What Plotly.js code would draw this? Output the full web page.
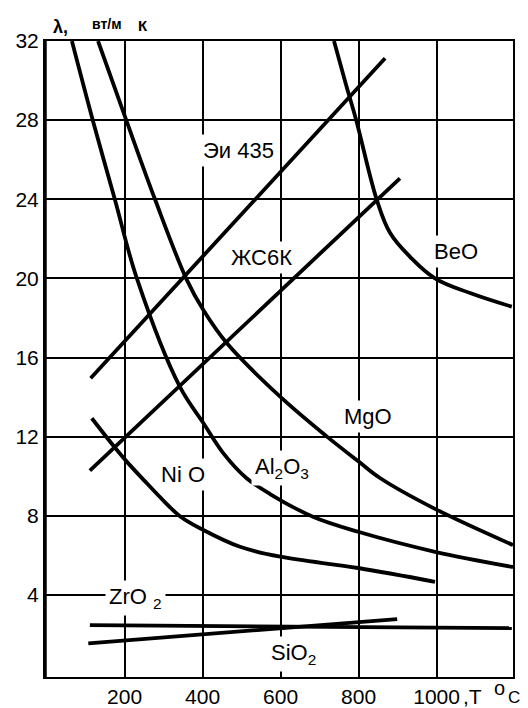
<!DOCTYPE html>
<html>
<head>
<meta charset="utf-8">
<script src="https://cdn.plot.ly/plotly-3.0.1.min.js"></script>
<style>html,body{margin:0;padding:0;background:#fff;}#chart{width:528px;height:708px;}</style>
</head>
<body>
<div id="chart"></div>
<script>
// Temperature (°C) and thermal conductivity λ (W/m·K)
const al2o3T = [65, 119, 175, 232, 342, 402, 453, 513, 573, 683, 799, 996, 1196];
const al2o3L = [32.0, 27.96, 24.0, 19.97, 14.51, 12.69, 11.17, 9.9, 9.1, 7.95, 7.19, 6.18, 5.41];

const mgoT = [132, 205, 278, 359, 402, 462, 599, 719, 801, 855, 996, 1196];
const mgoL = [32.0, 27.96, 24.0, 19.95, 18.4, 16.73, 14.02, 12.0, 10.73, 9.91, 8.35, 6.52];

const nioT = [116, 171, 205, 252, 299, 342, 402, 496, 599, 799, 996];
const nioL = [12.93, 11.55, 10.75, 9.75, 8.78, 7.98, 7.28, 6.43, 5.93, 5.36, 4.66];

const beoT = [737, 767, 794, 847, 881, 932, 996, 1086, 1193];
const beoL = [32.0, 29.85, 28.0, 23.96, 22.29, 21.09, 20.0, 19.26, 18.57];

const ei435T = [113, 868];
const ei435L = [14.95, 31.13];

const zhs6kT = [111, 906];
const zhs6kL = [10.28, 25.06];

const zro2T = [111, 1193];
const zro2L = [2.47, 2.32];

const sio2T = [107, 899];
const sio2L = [1.55, 2.78];

const xTicks = [200, 400, 600, 800, 1000];
const xTickText = ['200', '400', '600', '800', '1000'];
const yTicks = [4, 8, 12, 16, 20, 24, 28, 32];

const FONT = 'Liberation Sans, Arial, sans-serif';

function curve(x, y, smooth) {
  return {
    x: x, y: y, type: 'scatter', mode: 'lines', hoverinfo: 'skip',
    line: smooth ? {color: '#000', width: 3.8, shape: 'spline', smoothing: smooth}
                 : {color: '#000', width: 3.8},
    showlegend: false
  };
}

const data = [
  curve(al2o3T, al2o3L, 1.0),
  curve(mgoT, mgoL, 1.0),
  curve(nioT, nioL, 1.0),
  curve(beoT, beoL, 1.1),
  curve(ei435T, ei435L, 0),
  curve(zhs6kT, zhs6kL, 0),
  curve(zro2T, zro2L, 0),
  curve(sio2T, sio2L, 0)
];

function lab(text, x, y) {
  return {
    text: text, x: x, y: y, xref: 'x', yref: 'y', showarrow: false,
    font: {family: FONT, size: 22, color: '#000'},
    bgcolor: '#fff', borderpad: 3, xanchor: 'center', yanchor: 'middle'
  };
}
function plab(text, px, py, size) {
  return {
    text: text, x: (px - 45) / 468, y: (677 - py) / 636, xref: 'paper', yref: 'paper', showarrow: false,
    font: {family: FONT, size: size, color: '#000'},
    xanchor: 'center', yanchor: 'middle'
  };
}

const axisCommon = {
  showgrid: true, gridcolor: '#000', gridwidth: 2,
  showline: true, mirror: true, linecolor: '#000', linewidth: 2,
  zeroline: false, ticks: '', fixedrange: true,
  tickfont: {family: FONT, size: 21, color: '#000'}
};

const layout = {
  width: 528, height: 708,
  margin: {l: 45, r: 15, t: 41, b: 31},
  paper_bgcolor: '#fff', plot_bgcolor: '#fff',
  showlegend: false,
  xaxis: Object.assign({}, axisCommon, {
    range: [-4, 1196], tickmode: 'array', tickvals: xTicks, ticktext: xTickText
  }),
  yaxis: Object.assign({}, axisCommon, {
    range: [-0.15, 32], tickmode: 'array', tickvals: yTicks
  }),
  shapes: [
    {type: 'line', xref: 'paper', yref: 'paper', x0: 0, x1: 0, y0: 0, y1: 1,
     line: {color: '#000', width: 3.5}}
  ],
  annotations: [
    lab('Эи 435', 491, 26.49),
    lab('ЖС6К', 550, 21.08),
    lab('BeO', 1050, 21.38),
    lab('MgO', 824, 13.04),
    lab('Ni O', 350, 10.11),
    lab('Al<sub>2</sub>O<sub>3</sub>', 604, 10.4),
    lab('ZrO <sub>2</sub>', 227, 3.84),
    lab('SiO<sub>2</sub>', 634, 1.01),
    plab('<b>λ,</b>', 60, 27, 18),
    plab('<b>вт/м</b>', 107, 24, 14),
    plab('<b>К</b>', 143, 26, 15),
    plab(',T', 472, 696, 21),
    plab('o', 499, 688, 20),
    plab('C', 514, 697, 17)
  ]
};

Plotly.newPlot('chart', data, layout, {displayModeBar: false, staticPlot: true});
</script>
</body>
</html>
